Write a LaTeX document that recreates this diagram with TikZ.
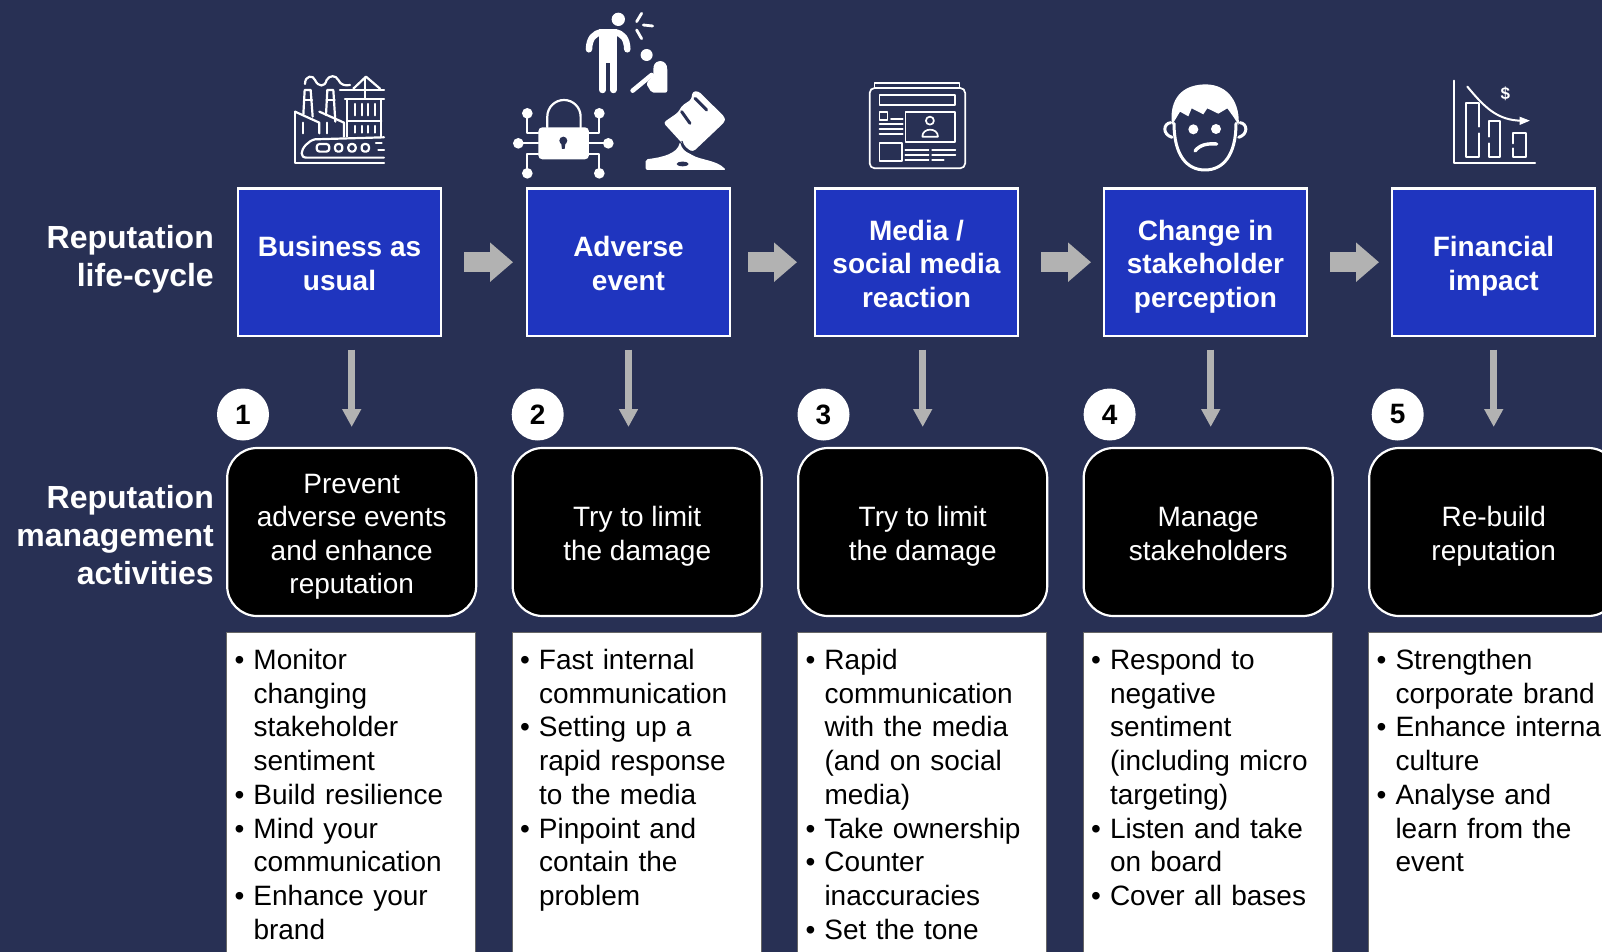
\documentclass[tikz,border=0pt]{standalone}
\usepackage{fontspec}
\setmainfont{Liberation Sans}
\usetikzlibrary{arrows.meta,positioning}
\definecolor{navybg}{HTML}{283054}
\definecolor{bluebox}{HTML}{1F35BF}
\definecolor{arrowgrey}{HTML}{B2B2B2}
\newcommand{\lifeitem}[1]{\hangindent=19pt\hangafter=1\makebox[19pt][l]{\textbullet}#1\par}
\newcommand{\boxlines}[1]{\raisebox{-11pt}[0pt][0pt]{\begin{tabular}{@{}c@{}}#1\end{tabular}}}
\newcommand{\bodyfont}{\fontsize{28}{33.6}\selectfont}
\newcommand{\listfont}{\fontsize{28}{33.7}\selectfont}
\newcommand{\sidefont}{\fontsize{32}{38.4}\selectfont\bfseries}

\begin{document}
\begin{tikzpicture}[x=1pt,y=-1pt,
	stage/.style={draw=white,fill=bluebox,line width=2.4pt,minimum width=203pt,minimum height=147pt,inner sep=0pt,outer sep=0pt,text=white,font=\bodyfont\bfseries},
	activity/.style={draw=white,fill=black,line width=2.2pt,rounded corners=30pt,minimum width=249pt,minimum height=168pt,inner sep=0pt,outer sep=0pt,text=white,font=\bodyfont},
	actions/.style={draw=black!60,line width=.6pt,fill=white,anchor=north west,text width=233pt,inner xsep=8pt,inner ysep=0pt,outer sep=0pt,text height=37pt,text depth=320pt,text=black,font=\listfont},
	sidelabel/.style={anchor=east,align=right,text=white,inner sep=0pt,font=\sidefont},
	stepnum/.style={circle,fill=white,minimum size=52pt,inner sep=0pt,outer sep=0pt,text=black,font=\bodyfont\bfseries},
	flowright/.style={color=arrowgrey,line width=20pt,-{Triangle[length=23pt,width=38pt]}},
	flowdown/.style={color=arrowgrey,line width=6.7pt,-{Triangle[length=18pt,width=18pt]},shorten <=14pt,shorten >=21pt},
	icon/.style={draw=white,line width=2.2pt,fill=none},
	solid icon/.style={fill=white,draw=none}]
	\useasboundingbox (0,0) rectangle (1602,952);
	\clip (0,0) rectangle (1602,952);
	\fill[navybg] (0,0) rectangle (1602,952);

	\node[sidelabel] (lifecycle) at (214,259) {Reputation\\life-cycle};
	\node[sidelabel] (management) at (214,535) {Reputation\\management\\activities};

	\node[stage] (usual) at (339.5,262.2) {\boxlines{Business as\\usual}};
	\node[stage,right=86pt of usual] (adverse) {\boxlines{Adverse\\event}};
	\node[stage,right=85pt of adverse] (media) {\boxlines{Media /\\social media\\reaction}};
	\node[stage,right=86pt of media] (change) {\boxlines{Change in\\stakeholder\\perception}};
	\node[stage,right=85pt of change] (financial) {\boxlines{Financial\\impact}};

	\node[activity] (prevent) at (351.7,532) {\boxlines{Prevent\\adverse events\\and enhance\\reputation}};
	\node[activity,right=36.5pt of prevent] (limit) {\boxlines{Try to limit\\the damage}};
	\node[activity,right=36.5pt of limit] (limitb) {\boxlines{Try to limit\\the damage}};
	\node[activity,right=36.5pt of limitb] (manage) {\boxlines{Manage\\stakeholders}};
	\node[activity,right=36.5pt of manage] (rebuild) {\boxlines{Re-build\\reputation}};

	\node[stepnum] (one) at (243,414.5) {1};
	\node[stepnum] (two) at (537.7,414.5) {2};
	\node[stepnum] (three) at (823.5,414.5) {3};
	\node[stepnum] (four) at (1109.6,414.5) {4};
	\node[stepnum] (five) at (1397.7,414.5) {5};

	\path[flowright]
	(usual) edge[shorten <=23pt,shorten >=14pt] (adverse)
	(adverse) edge[shorten <=18pt,shorten >=18pt] (media)
	(media) edge[shorten <=23pt,shorten >=13pt] (change)
	(change) edge[shorten <=23pt,shorten >=13pt] (financial);
	\path[flowdown]
	(usual.south -| prevent.north) edge (prevent.north)
	(adverse.south) edge (adverse.south |- limit.north)
	(media.south -| limitb.north) edge (limitb.north)
	([xshift=2.5pt]change.south -| manage.north) edge ([xshift=2.5pt]manage.north)
	(financial.south -| rebuild.north) edge (rebuild.north);

	\node[actions] (listone) at (226.5,632.5) {\lifeitem{Monitor\newline changing\newline stakeholder\newline sentiment}\lifeitem{Build resilience}\lifeitem{Mind your\newline communication}\lifeitem{Enhance your\newline brand}};
	\node[actions] (listtwo) at (512,632.5) {\lifeitem{Fast internal\newline communication}\lifeitem{Setting up a\newline rapid response\newline to the media}\lifeitem{Pinpoint and\newline contain the\newline problem}};
	\node[actions] (listthree) at (797.5,632.5) {\lifeitem{Rapid\newline communication\newline with the media\newline (and on social\newline media)}\lifeitem{Take ownership}\lifeitem{Counter\newline inaccuracies}\lifeitem{Set the tone}};
	\node[actions] (listfour) at (1083,632.5) {\lifeitem{Respond to\newline negative\newline sentiment\newline (including micro\newline targeting)}\lifeitem{Listen and take\newline on board}\lifeitem{Cover all bases}};
	\node[actions] (listfive) at (1368.5,632.5) {\lifeitem{Strengthen\newline corporate brand}\lifeitem{Enhance internal\newline culture}\lifeitem{Analyse and\newline learn from the\newline event}};

	\begin{scope}[shift={(270pt,0pt)},x=.3333pt,y=-.3333pt,line cap=round,line join=round]
		\draw[icon] (75,335) -- (75,490) -- (342,490);
		\draw[icon] (75,335) -- (148,368) -- (148,400);
		\draw[icon] (148,335) -- (222,368) -- (222,410);
		\draw[icon] (100,345) -- (104,270) -- (122,270) -- (128,350);
		\draw[icon] (102,300) -- (126,300);
		\draw[icon] (168,345) -- (172,270) -- (190,270) -- (196,365);
		\draw[icon] (170,300) -- (194,300);
		\draw[icon] (105,252) .. controls (105,225) and (130,225) .. (135,240) .. controls (145,262) and (165,262) .. (170,240) .. controls (178,225) and (198,225) .. (205,240) .. controls (212,255) and (225,258) .. (240,255);
		\draw[icon] (210,270) -- (342,270);
		\draw[icon] (250,266) -- (288,230) -- (330,266);
		\draw[icon] (285,232) -- (285,295);
		\draw[icon] (225,297) -- (342,297);
		\draw[icon] (232,297) -- (232,410);
		\draw[icon] (334,297) -- (334,410);
		\draw[icon] (232,362) -- (334,362);
		\foreach \hx in {255,275,295,315} {
			\draw[icon] (\hx,312) -- (\hx,346);
			\draw[icon] (\hx,378) -- (\hx,398);
		}
		\draw[icon] (100,368) -- (100,400);
		\draw[icon] (172,368) -- (172,400);
		\draw[icon] (342,412) -- (135,418) .. controls (115,422) and (95,445) .. (95,460) .. controls (95,468) and (100,473) .. (110,473) -- (342,473);
		\draw[icon,rounded corners=3pt] (140,432) -- (178,432) -- (178,455) -- (140,455) -- cycle;
		\draw[icon,rounded corners=3pt] (195,432) rectangle (217,455);
		\draw[icon,rounded corners=3pt] (235,432) rectangle (257,455);
		\draw[icon,rounded corners=3pt] (275,432) rectangle (297,455);
		\draw[icon] (318,430) -- (335,430);
		\draw[icon] (325,449) -- (342,449);

		\fill[solid icon] (1045,58) circle[radius=20];
		\fill[solid icon] (988,88) rectangle (1042,190);
		\draw[white,line width=6.5pt] (957,148) .. controls (958,115) and (972,100) .. (995,97);
		\draw[white,line width=6.5pt] (1072,148) .. controls (1071,115) and (1057,100) .. (1035,97);
		\draw[white,line width=6.5pt] (998,190) -- (998,270);
		\draw[white,line width=6.5pt] (1030,190) -- (1030,270);
		\draw[white,line width=2.8pt] (1100,65) -- (1115,40);
		\draw[white,line width=2.8pt] (1120,75) -- (1148,78);
		\draw[white,line width=2.8pt] (1100,90) -- (1115,116);
		\fill[solid icon] (1130,165) circle[radius=18];
		\fill[solid icon,rounded corners=2pt] (1150,205) .. controls (1155,178) and (1192,175) .. (1192,215) -- (1192,278) -- (1145,278) -- (1128,250) -- (1150,228) -- cycle;
		\draw[white,line width=4.6pt] (1145,225) -- (1088,272);

		\draw[icon] (832,382) -- (832,350) arc[start angle=180,end angle=360,radius=50] -- (932,382);
		\fill[solid icon,rounded corners=4pt] (805,382) rectangle (957,478);
		\fill[navybg] (880,422) circle[radius=12];
		\fill[navybg] (873,425) -- (887,425) -- (884,447) -- (876,447) -- cycle;
		\draw[icon,line width=1.7pt] (805,400) -- (772,400) -- (772,340);
		\draw[icon,line width=1.7pt] (957,400) -- (988,400) -- (988,340);
		\draw[icon,line width=1.7pt] (805,430) -- (745,430);
		\draw[icon,line width=1.7pt] (957,430) -- (1015,430);
		\draw[icon,line width=1.7pt] (805,462) -- (772,462) -- (772,520);
		\draw[icon,line width=1.7pt] (957,462) -- (988,462) -- (988,520);
		\foreach \px/\py in {772/340,988/340,745/430,1015/430,772/520,988/520} {
			\fill[solid icon] (\px,\py) circle[radius=16];
		}

		\fill[solid icon,rounded corners=3pt] (1180,368) -- (1225,337) -- (1235,318) -- (1265,298) -- (1267,275) -- (1285,273) -- (1365,352) -- (1365,365) -- (1270,455) -- (1255,450) -- cycle;
		\draw[navybg,line width=3pt] (1235,335) -- (1260,370);
		\draw[navybg,line width=3pt] (1275,295) -- (1310,330);
		\fill[solid icon,rounded corners=2pt] (1127,510) -- (1127,478) .. controls (1180,472) and (1222,460) .. (1230,425) .. controls (1235,445) and (1245,455) .. (1262,462) .. controls (1290,480) and (1340,480) .. (1368,510) -- cycle;
		\draw[navybg,line width=1.2pt] (1236,424) .. controls (1240,440) and (1250,448) .. (1264,456);
		\fill[navybg] (1238,492) ellipse[x radius=18,y radius=7];
	\end{scope}

	\begin{scope}[shift={(850pt,-60pt)},x=.4464pt,y=-.3333pt,line cap=round,line join=round]
		\draw[icon,line width=1.7pt,rounded corners=5pt] (44,84) rectangle (258,325);
		\draw[icon,line width=1.7pt] (55,84) -- (55,70) -- (245,70) -- (245,84);
		\draw[icon,line width=1.7pt] (66,104) rectangle (235,136);
		\draw[icon,line width=1.7pt] (124,155) rectangle (235,245);
		\draw[icon,line width=1.7pt] (179,182) ellipse[x radius=9,y radius=12];
		\draw[icon,line width=1.7pt] (162,230) .. controls (162,202) and (197,202) .. (197,230) -- cycle;
		\draw[icon,line width=1.7pt] (66,155) rectangle (84,180);
		\draw[icon,line width=1.7pt] (92,178) -- (118,178);
		\foreach \ly in {192,207,222} {
			\draw[icon,line width=1.7pt] (66,\ly) -- (118,\ly);
		}
		\draw[icon,line width=1.7pt] (66,250) rectangle (116,302);
		\foreach \ly in {270,285} {
			\draw[icon,line width=1.7pt] (124,\ly) -- (176,\ly);
			\draw[icon,line width=1.7pt] (184,\ly) -- (236,\ly);
		}
		\draw[icon,line width=1.7pt] (124,300) -- (176,300);
		\draw[icon,line width=1.7pt] (184,300) -- (210,300);

		\draw[icon,line width=2pt] (1354,62) -- (1354,308) -- (1535,308);
		\draw[icon,line width=2pt] (1408,200) -- (1408,130) -- (1381,130) -- (1381,290) -- (1408,290) -- (1408,220);
		\draw[icon,line width=2pt] (1432,230) -- (1432,183) -- (1456,183) -- (1456,290) -- (1432,290) -- (1432,250);
		\draw[icon,line width=2pt] (1486,250) -- (1486,218) -- (1514,218) -- (1514,290) -- (1486,290) -- (1486,265);
		\draw[icon,line width=2pt] (1383,80) .. controls (1420,140) and (1450,182) .. (1505,182);
		\fill[solid icon] (1500,170) -- (1523,182) -- (1500,195) -- cycle;
		\node[text=white,inner sep=0pt,font=\fontsize{17}{17}\selectfont\bfseries] (dollar) at (1468,100) {\$};
	\end{scope}

	\begin{scope}[shift={(1150pt,-75pt)},x=.3333pt,y=-.3333pt,line cap=round,line join=round]
		\fill[solid icon] (66,150) .. controls (58,90) and (80,30) .. (165,28) .. controls (240,28) and (270,90) .. (266,150) -- (250,125) -- (232,100) -- (205,116) -- (172,100) -- (160,118) -- (125,100) -- (115,124) -- (90,110) -- (78,130) -- cycle;
		\draw[icon,line width=3pt] (72,145) .. controls (72,240) and (110,285) .. (165,285) .. controls (220,285) and (258,240) .. (258,145);
		\draw[icon,line width=3pt] (62,143) .. controls (40,145) and (36,178) .. (66,187);
		\draw[icon,line width=3pt] (270,143) .. controls (292,145) and (296,178) .. (266,187);
		\fill[solid icon] (130,163) circle[radius=15];
		\fill[solid icon] (198,162) circle[radius=15];
		\draw[white,line width=3.4pt] (135,228) .. controls (150,208) and (175,205) .. (200,207);
	\end{scope}
\end{tikzpicture}
\end{document}
